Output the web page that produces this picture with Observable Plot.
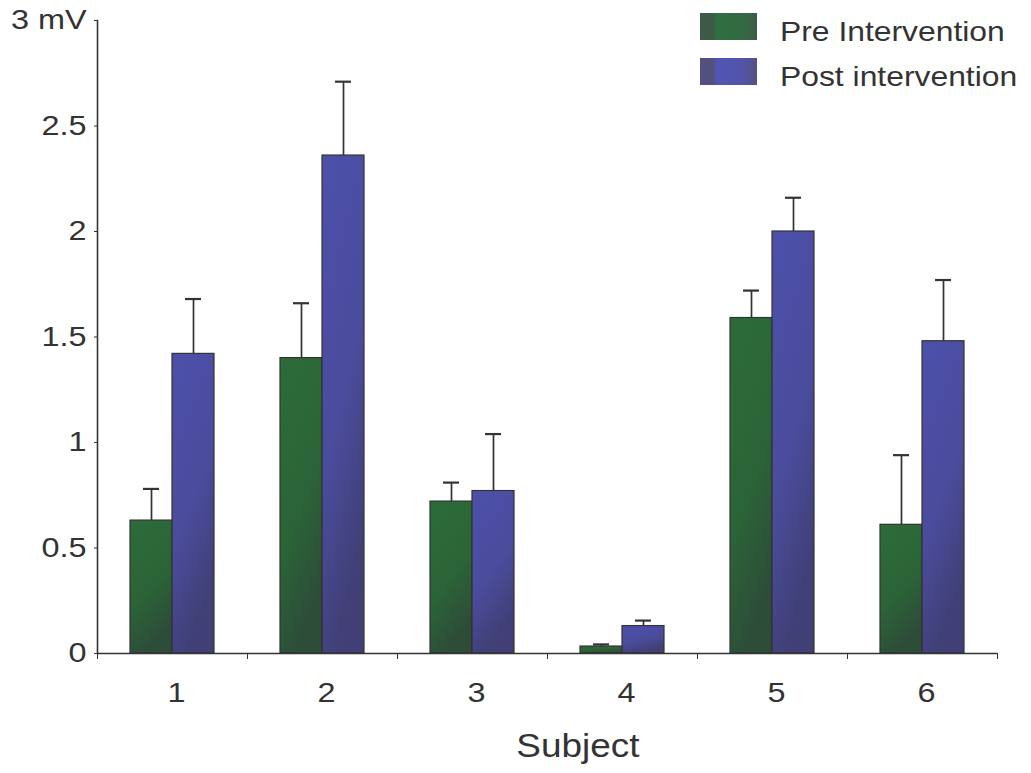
<!DOCTYPE html>
<html>
<head>
<meta charset="utf-8">
<script src="https://cdn.jsdelivr.net/npm/d3@7"></script>
<script src="https://cdn.jsdelivr.net/npm/@observablehq/plot@0.6"></script>
<style>
  html, body { margin: 0; padding: 0; background: #fff; }
  #chart { position: relative; width: 1031px; height: 773px; }
</style>
</head>
<body>
<div id="chart"></div>
<script>
const subjects = ["1", "2", "3", "4", "5", "6"];
const seriesNames = ["Pre Intervention", "Post intervention"];
const preValues = [0.63, 1.40, 0.72, 0.033, 1.59, 0.61];
const preErrTop = [0.78, 1.66, 0.81, 0.043, 1.72, 0.94];
const postValues = [1.42, 2.36, 0.77, 0.13, 2.0, 1.48];
const postErrTop = [1.68, 2.71, 1.04, 0.156, 2.16, 1.77];
const yTicks = [0, 0.5, 1, 1.5, 2, 2.5, 3];
const xLabel = "Subject";
const yUnit = "mV";

const pre = subjects.map((s, i) => ({subject: s, value: preValues[i], err: preErrTop[i]}));
const post = subjects.map((s, i) => ({subject: s, value: postValues[i], err: postErrTop[i]}));

const font = "Liberation Sans, Arial, Helvetica, sans-serif";
const ink = "#333";

const chart = Plot.plot({
  width: 1031,
  height: 773,
  marginLeft: 97,
  marginRight: 34,
  marginTop: 20,
  marginBottom: 120,
  style: {fontFamily: font, background: "transparent", color: ink},
  x: {domain: subjects, padding: 0, axis: null},
  y: {domain: [0, 3], axis: null},
  marks: [
    // error bars (behind bars)
    Plot.ruleX(pre, {x: "subject", y1: "value", y2: "err", dx: -21, stroke: ink, strokeWidth: 1.7}),
    Plot.ruleX(post, {x: "subject", y1: "value", y2: "err", dx: 21, stroke: ink, strokeWidth: 1.7}),
    Plot.tickY(pre, {x: "subject", y: "err", insetLeft: 46, insetRight: 88, stroke: ink, strokeWidth: 2.2}),
    Plot.tickY(post, {x: "subject", y: "err", insetLeft: 88, insetRight: 46, stroke: ink, strokeWidth: 2.2}),
    // bars
    Plot.barY(pre, {x: "subject", y: "value", insetLeft: 33, insetRight: 75, fill: "url(#gradPre)", stroke: ink, strokeWidth: 1.2}),
    Plot.barY(post, {x: "subject", y: "value", insetLeft: 75, insetRight: 33, fill: "url(#gradPost)", stroke: ink, strokeWidth: 1.2}),
    // y axis
    Plot.axisY({ticks: yTicks, tickSize: 3, tickPadding: 8, fontSize: 27, label: null,
      tickFormat: d => d === 3 ? `3 ${yUnit}` : String(d), stroke: ink}),
    Plot.frame({anchor: "left", stroke: ink, strokeWidth: 1.6}),
    // x axis line
    Plot.ruleY([0], {stroke: ink, strokeWidth: 1.6}),
    // x axis labels
    Plot.axisX({tickSize: 0, tickPadding: 29, fontSize: 27, dx: 4, label: null}),
    // x ticks at group boundaries
    Plot.axisX({tickSize: 6, text: null, dx: -75, stroke: ink, label: null}),
    Plot.axisX({ticks: [subjects[subjects.length - 1]], tickSize: 6, text: null, dx: 75, stroke: ink, label: null})
  ]
});

const svg = d3.select(chart);
const defs = svg.insert("defs", ":first-child");
const gp = defs.append("linearGradient").attr("id", "gradPre").attr("x1", 0).attr("y1", 0).attr("x2", 0.35).attr("y2", 1);
gp.append("stop").attr("offset", "0%").attr("stop-color", "#2c6c39");
gp.append("stop").attr("offset", "60%").attr("stop-color", "#2b6437");
gp.append("stop").attr("offset", "100%").attr("stop-color", "#2d4d39");
const gq = defs.append("linearGradient").attr("id", "gradPost").attr("x1", 0).attr("y1", 0).attr("x2", 0.35).attr("y2", 1);
gq.append("stop").attr("offset", "0%").attr("stop-color", "#4c50aa");
gq.append("stop").attr("offset", "60%").attr("stop-color", "#4a4c9c");
gq.append("stop").attr("offset", "100%").attr("stop-color", "#403f76");

// legend swatch gradients (darker strip at left, as in the reference)
const lp = defs.append("linearGradient").attr("id", "legPre");
lp.append("stop").attr("offset", "0%").attr("stop-color", "#3d5a48");
lp.append("stop").attr("offset", "22%").attr("stop-color", "#3d5a48");
lp.append("stop").attr("offset", "30%").attr("stop-color", "#2f7040");
lp.append("stop").attr("offset", "75%").attr("stop-color", "#336a42");
lp.append("stop").attr("offset", "100%").attr("stop-color", "#3d5a48");
const lq = defs.append("linearGradient").attr("id", "legPost");
lq.append("stop").attr("offset", "0%").attr("stop-color", "#54507e");
lq.append("stop").attr("offset", "22%").attr("stop-color", "#54507e");
lq.append("stop").attr("offset", "30%").attr("stop-color", "#5156b4");
lq.append("stop").attr("offset", "75%").attr("stop-color", "#5254a8");
lq.append("stop").attr("offset", "100%").attr("stop-color", "#54507e");

// x-axis title
svg.append("text")
  .attr("x", 578).attr("y", 757)
  .attr("text-anchor", "middle")
  .attr("font-family", font).attr("font-size", 33).attr("fill", ink)
  .attr("data-sx", 1.12)
  .text(xLabel);

// legend
const legend = svg.append("g").attr("font-family", font).attr("font-size", 27).attr("fill", ink).attr("text-anchor", "start");
const legendFills = ["url(#legPre)", "url(#legPost)"];
seriesNames.forEach((name, i) => {
  legend.append("rect").attr("x", 700).attr("y", 13 + i * 45).attr("width", 57).attr("height", 27)
    .attr("fill", legendFills[i]).attr("stroke", "none");
  legend.append("text").attr("x", 780).attr("y", 41 + i * 45).attr("data-sx", 1.18).text(name);
});

document.getElementById("chart").appendChild(chart);

// the reference lettering is horizontally wide; widen text about its anchor
chart.querySelectorAll("text").forEach(el => {
  const sx = +(el.getAttribute("data-sx") || 1.2);
  const t = el.getAttribute("transform");
  if (t) {
    // axis tick labels are placed by a translate; scale about their local anchor
    el.setAttribute("transform", `${t} scale(${sx},1)`);
  } else {
    const anchor = getComputedStyle(el).textAnchor;
    const origin = anchor === "end" ? "right center" : anchor === "middle" ? "center center" : "left center";
    el.style.transformBox = "fill-box";
    el.style.transformOrigin = origin;
    el.style.transform = `scaleX(${sx})`;
  }
});
</script>
</body>
</html>
